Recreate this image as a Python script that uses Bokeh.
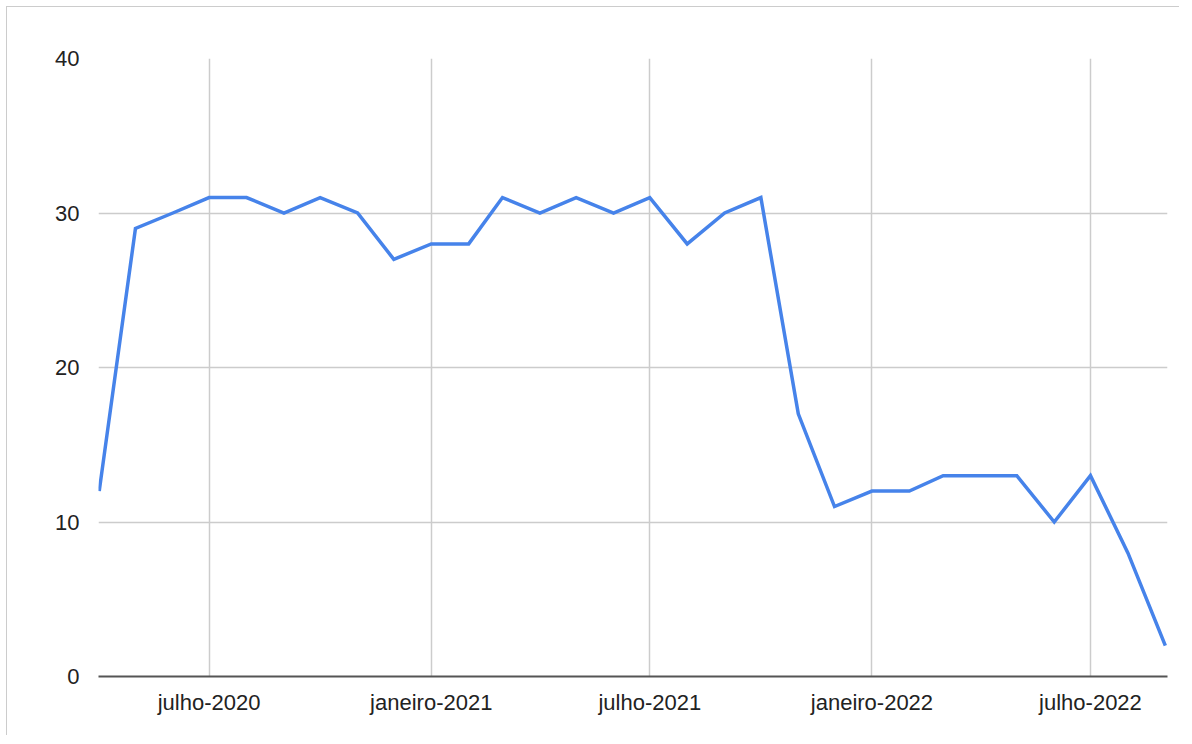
import pandas as pd
from bokeh.plotting import figure
from bokeh.models import FixedTicker, CustomJSTickFormatter, Range1d
from bokeh.embed import file_html
from bokeh.resources import INLINE

# Data (monthly)
months = pd.date_range("2020-04-01", "2022-09-01", freq="MS")
values = [12, 29, 30, 31, 31, 30, 31, 30, 27, 28,
          28, 31, 30, 31, 30, 31, 28, 30, 31, 17,
          11, 12, 12, 13, 13, 13, 10, 13, 8, 2]
tick_dates = ["2020-07-01", "2021-01-01", "2021-07-01", "2022-01-01", "2022-07-01"]
month_names = ["janeiro", "fevereiro", "março", "abril", "maio", "junho",
               "julho", "agosto", "setembro", "outubro", "novembro", "dezembro"]
y_ticks = [0, 10, 20, 30, 40]

def ms(ts):
    return pd.Timestamp(ts).value / 1e6

xs = [ms(m) for m in months]
day = 86400000.0

p = figure(width=1173, height=729, output_backend="svg", toolbar_location=None,
           x_range=Range1d(ms("2020-04-01") - 0.6 * day, ms("2022-09-01") + 1.8 * day),
           y_range=Range1d(0, 40),
           min_border_left=91, min_border_right=13, min_border_top=51, min_border_bottom=60)
p.styles = {"border-top": "1px solid #cccccc", "border-left": "1px solid #cccccc",
            "margin-left": "6px", "margin-top": "6px"}
p.outline_line_color = None
p.background_fill_color = "white"
p.border_fill_color = "white"

p.line(xs, values, line_color="#4683ea", line_width=3.5, line_join="miter")

p.xaxis.ticker = FixedTicker(ticks=[ms(t) for t in tick_dates])
p.xaxis.formatter = CustomJSTickFormatter(args=dict(names=month_names), code="""
const d = new Date(tick);
return names[d.getUTCMonth()] + "-" + d.getUTCFullYear();
""")
p.yaxis.ticker = FixedTicker(ticks=y_ticks)

for ax in (p.xaxis, p.yaxis):
    ax.major_label_text_font = "Liberation Sans"
    ax.major_label_text_font_size = "22px"
    ax.major_label_text_color = "#222222"
    ax.major_tick_line_color = None
    ax.minor_tick_line_color = None

p.xaxis.axis_line_color = "#555555"
p.xaxis.axis_line_width = 2
p.xaxis.major_label_standoff = 7
p.yaxis.axis_line_color = None
p.yaxis.major_label_standoff = 13

p.xgrid.grid_line_color = "#cccccc"
p.xgrid.grid_line_width = 1.5
p.ygrid.grid_line_color = "#cccccc"
p.ygrid.grid_line_width = 1.5

open("out.html", "w").write(file_html(p, INLINE))
